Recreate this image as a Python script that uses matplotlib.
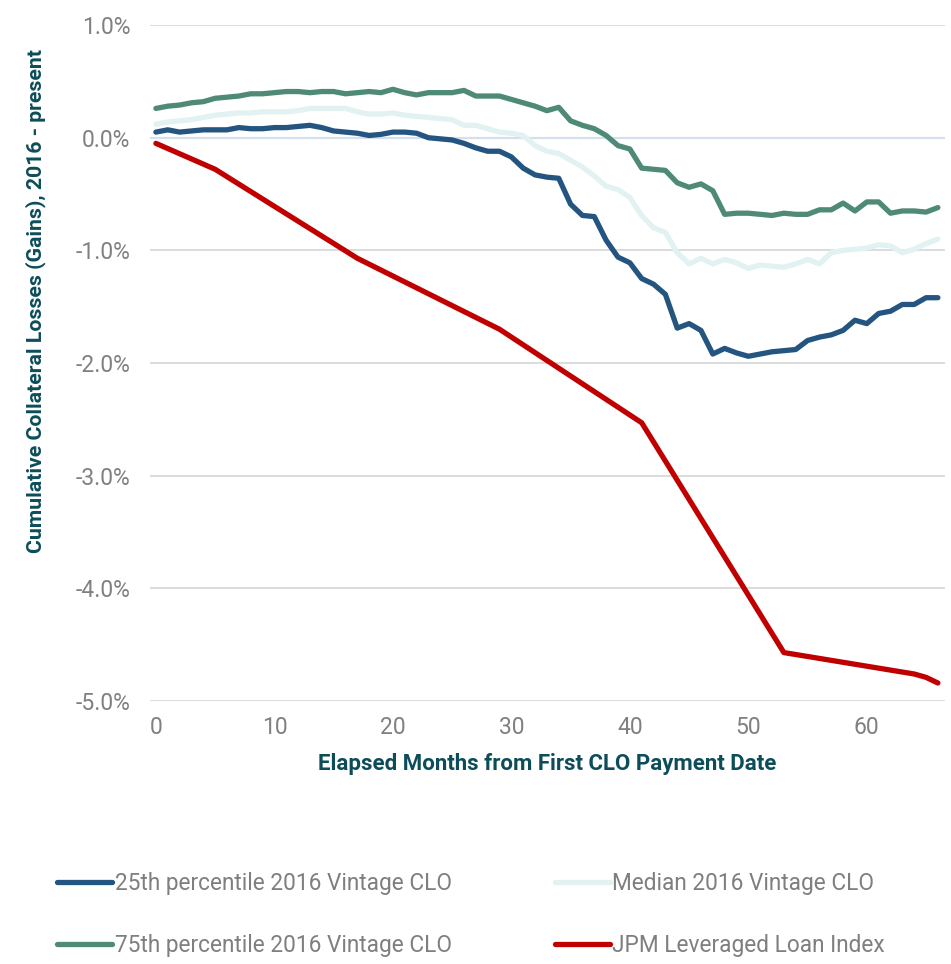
import matplotlib
matplotlib.use("Agg")
import matplotlib.pyplot as plt
import numpy as np

# Elapsed months for the CLO series
months = list(range(67))

# 25th percentile 2016 vintage CLO (% cumulative losses/gains)
p25 = [0.05, 0.07, 0.05, 0.06, 0.07, 0.07, 0.07, 0.09, 0.08, 0.08,
       0.09, 0.09, 0.10, 0.11, 0.09, 0.06, 0.05, 0.04, 0.02, 0.03,
       0.05, 0.05, 0.04, 0.00, -0.01, -0.02, -0.05, -0.09, -0.12, -0.12,
       -0.17, -0.27, -0.33, -0.35, -0.36, -0.59, -0.69, -0.70, -0.91, -1.06,
       -1.11, -1.25, -1.30, -1.39, -1.69, -1.65, -1.71, -1.92, -1.87, -1.91,
       -1.94, -1.92, -1.90, -1.89, -1.88, -1.80, -1.77, -1.75, -1.71, -1.62,
       -1.65, -1.56, -1.54, -1.48, -1.48, -1.42, -1.42]

# Median 2016 vintage CLO
median = [0.12, 0.14, 0.15, 0.16, 0.18, 0.20, 0.21, 0.22, 0.22, 0.23,
          0.23, 0.23, 0.24, 0.26, 0.26, 0.26, 0.26, 0.23, 0.21, 0.21,
          0.22, 0.20, 0.19, 0.18, 0.17, 0.16, 0.11, 0.11, 0.08, 0.05,
          0.04, 0.02, -0.07, -0.12, -0.14, -0.20, -0.26, -0.34, -0.43, -0.46,
          -0.53, -0.69, -0.80, -0.84, -1.02, -1.12, -1.07, -1.12, -1.08, -1.11,
          -1.16, -1.13, -1.14, -1.15, -1.12, -1.08, -1.12, -1.02, -1.00, -0.99,
          -0.98, -0.95, -0.96, -1.02, -0.99, -0.94, -0.90]

# 75th percentile 2016 vintage CLO
p75 = [0.26, 0.28, 0.29, 0.31, 0.32, 0.35, 0.36, 0.37, 0.39, 0.39,
       0.40, 0.41, 0.41, 0.40, 0.41, 0.41, 0.39, 0.40, 0.41, 0.40,
       0.43, 0.40, 0.38, 0.40, 0.40, 0.40, 0.42, 0.37, 0.37, 0.37,
       0.34, 0.31, 0.28, 0.24, 0.27, 0.15, 0.11, 0.08, 0.02, -0.07,
       -0.10, -0.27, -0.28, -0.29, -0.40, -0.44, -0.41, -0.47, -0.68, -0.67,
       -0.67, -0.68, -0.69, -0.67, -0.68, -0.68, -0.64, -0.64, -0.58, -0.65,
       -0.57, -0.57, -0.67, -0.65, -0.65, -0.66, -0.62]

# JPM Leveraged Loan Index (annual points)
jpm_months = [0, 5, 17, 29, 41, 53, 64, 65, 66]
jpm = [-0.05, -0.28, -1.07, -1.70, -2.53, -4.57, -4.76, -4.79, -4.84]

labels = ["25th percentile 2016 Vintage CLO", "Median 2016 Vintage CLO",
          "75th percentile 2016 Vintage CLO", "JPM Leveraged Loan Index"]
colors = ["#245480", "#e2f1f1", "#4e8a77", "#c00000"]

font = ["Roboto", "DejaVu Sans"]

fig = plt.figure(figsize=(9.51, 9.64), dpi=100)
ax = fig.add_axes([0.1577, 0.2728, 0.836, 0.7012])

lw = 3.8
ax.plot(months, p25, color=colors[0], lw=lw, label=labels[0], solid_capstyle="round")
ax.plot(months, median, color=colors[1], lw=lw, label=labels[1], solid_capstyle="round")
ax.plot(months, p75, color=colors[2], lw=lw, label=labels[2], solid_capstyle="round")
ax.plot(jpm_months, jpm, color=colors[3], lw=lw, label=labels[3], solid_capstyle="round")

ax.set_xlim(-0.5, 66.6)
ax.set_ylim(-5.0, 1.0)
ax.set_yticks(np.arange(-5, 1.01, 1))
ax.set_yticklabels([f"{v:.1f}%" for v in np.arange(-5, 1.01, 1)])
ax.set_xticks(range(0, 61, 10))

for s in ax.spines.values():
    s.set_visible(False)
ax.grid(axis="y", color="#d9d9d9", lw=1.3, zorder=0)
ax.axhline(0, color="#d5e0ec", lw=1.6, zorder=1)
ax.set_axisbelow(True)
ax.tick_params(length=0, labelsize=16.5, labelcolor="#808080")
ax.tick_params(axis="y", pad=14)
ax.tick_params(axis="x", pad=11)
for t in ax.get_xticklabels() + ax.get_yticklabels():
    t.set_family(font)

ax.set_xlabel("Elapsed Months from First CLO Payment Date", fontsize=16,
              color="#0d4d5a", fontweight="semibold", family=font, labelpad=10)
ax.set_ylabel("Cumulative Collateral Losses (Gains), 2016 - present", fontsize=15.3,
              color="#0d4d5a", fontweight="semibold", family=font)
ax.yaxis.set_label_coords(-0.131, 0.592)

handles, labs = ax.get_legend_handles_labels()
order = [0, 2, 1, 3]
leg = fig.legend([handles[i] for i in order], [labs[i] for i in order],
                 loc="lower left", bbox_to_anchor=(0.0484, -0.0041), ncol=2,
                 frameon=False, handlelength=2.43, handletextpad=0.1,
                 columnspacing=4.55, labelspacing=1.69, borderpad=0,
                 prop={"family": font, "size": 16.3})
for t in leg.get_texts():
    t.set_color("#7f7f7f")

fig.savefig("out.png", dpi=100)
